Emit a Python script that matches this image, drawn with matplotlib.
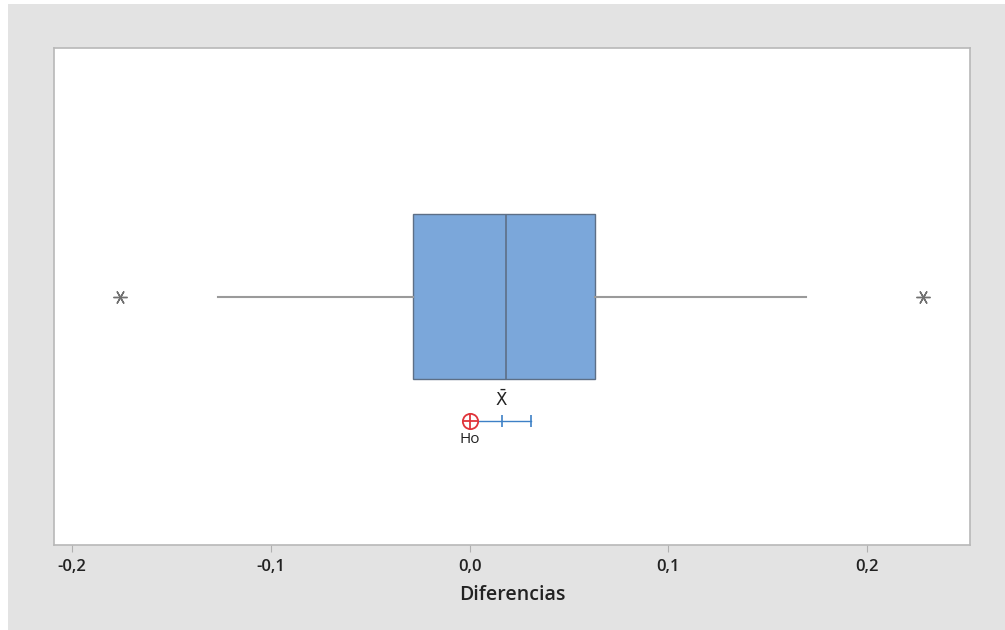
import matplotlib
matplotlib.use('Agg')
import matplotlib.pyplot as plt
from matplotlib.patches import Rectangle

plt.rcParams["font.family"] = ["Open Sans", "DejaVu Sans"]
plt.rcParams["mathtext.fontset"] = "dejavusans"

# resumen de las diferencias
whisker_lo = -0.1265
q1 = -0.0284
median = 0.0184
q3 = 0.0631
whisker_hi = 0.1693
outliers = [-0.1758, 0.2282]

# media con intervalo de confianza y valor de la hipótesis nula
mean = 0.0162
ci_lo = 0.0015
ci_hi = 0.0309
h0 = 0.0

xticks = [-0.2, -0.1, 0.0, 0.1, 0.2]
xticklabels = ["-0,2", "-0,1", "0,0", "0,1", "0,2"]

fig = plt.figure(figsize=(10.05, 6.3), dpi=100, facecolor="white")
fig.patches.append(Rectangle((8 / 1005, 0), 1, 1 - 4 / 630, transform=fig.transFigure,
                             facecolor="#e3e3e3", edgecolor="none", zorder=-1))
ax = fig.add_axes([54 / 1005, 85 / 630, 916 / 1005, 497 / 630])
ax.set_zorder(1)
ax.set_facecolor("white")

stats = [{
    "whislo": whisker_lo, "q1": q1, "med": median, "q3": q3,
    "whishi": whisker_hi, "fliers": outliers,
}]
ax.bxp(stats, positions=[0.5], widths=0.334, vert=False, patch_artist=True,
       showcaps=False,
       boxprops=dict(facecolor="#7ba7da", edgecolor="#5d6f86", linewidth=1.0),
       medianprops=dict(color="#5d6f86", linewidth=1.2),
       whiskerprops=dict(color="#9a9a9a", linewidth=1.5),
       flierprops=dict(marker=(6, 2, 90), markersize=10, markeredgecolor="#707070",
                       markeredgewidth=1.0, linestyle="none"))

# intervalo de confianza de la media
y_ci = 0.2495
ax.plot([ci_lo, ci_hi], [y_ci, y_ci], color="#3d80c6", linewidth=1.0, zorder=3)
ax.plot([mean, ci_hi], [y_ci, y_ci], marker="|", markersize=9, markeredgewidth=1.2,
        color="#3d80c6", linestyle="none", zorder=3)
ax.plot([h0], [y_ci], marker="o", markersize=11, markerfacecolor="white",
        markeredgecolor="#e0343a", markeredgewidth=1.3, zorder=4)
ax.plot([h0], [y_ci], marker="+", markersize=11, markeredgecolor="#e0343a",
        markeredgewidth=1.3, zorder=5)
ax.text(mean, y_ci + 0.022, r"$\bar{\mathsf{X}}$", ha="center", va="bottom",
        fontsize=12, color="#222222")
ax.text(h0, y_ci - 0.022, "Ho", ha="center", va="top", fontsize=11, color="#222222")

ax.set_xlim(-0.2091, 0.2518)
ax.set_ylim(0, 1)
ax.set_yticks([])
ax.set_xticks(xticks)
ax.set_xticklabels(xticklabels, fontsize=12, fontweight="semibold", color="#222222")
ax.tick_params(axis="x", length=5, color="#b0b0b0", pad=5)
for s in ax.spines.values():
    s.set_color("#b8b8b8")
    s.set_linewidth(1.2)
ax.set_xlabel("Diferencias", fontsize=14, fontweight="semibold", color="#222222", labelpad=7)

fig.savefig("out.png", dpi=100, facecolor=fig.get_facecolor())
